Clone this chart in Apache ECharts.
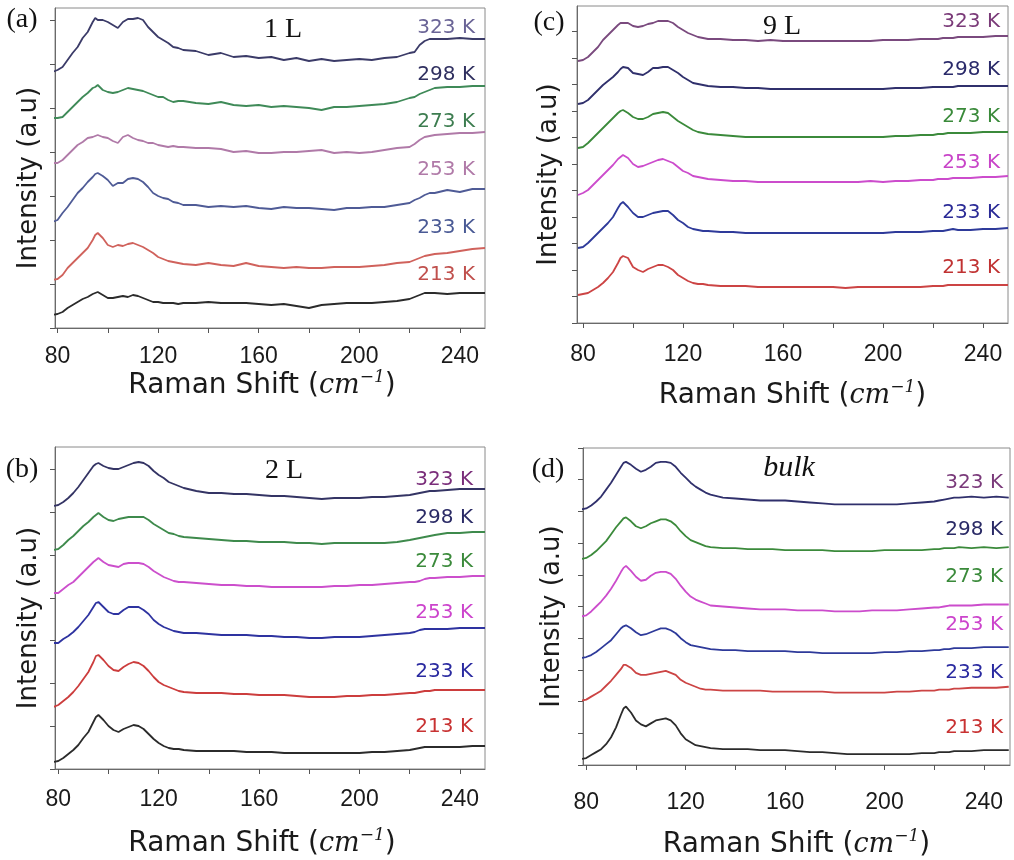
<!DOCTYPE html>
<html>
<head>
<meta charset="utf-8">
<script src="https://cdn.jsdelivr.net/npm/echarts@6/dist/echarts.min.js"></script>
<style>html,body{margin:0;padding:0;background:#fff}#c{width:1014px;height:860px}</style>
</head>
<body>
<div id="c"></div>
<script>
// Raman shift sampling (cm^-1)
const ramanShift = [78,80,82,84,86,88,90,92,94,95,96,98,100,102,104,106,108,110,112,114,116,118,120,122,124,126,128,130,135,140,145,150,155,160,165,170,175,180,185,190,195,200,205,210,215,220,222,224,226,228,230,235,240,245,250];
const xTickValues = [80,100,120,140,160,180,200,220,240];
const xLabelValues = [80,120,160,200,240];
const tempLabels = ['323 K','298 K','273 K','253 K','233 K','213 K'];

// (a) 1 L  — offset intensities (a.u.), top to bottom
const oneL_323 = [256,258,261,268,275,281,290,296,306,310,308,308,306,303,300,306,309,309,310,308,301,296,291,288,285,281,280,278,277,273,275,271,272,270,271,268,270,267,269,267,268,269,268,270,271,275,276,283,287,289,289,289,290,289,289];
const oneL_298 = [210,210,211,216,221,226,231,235,240,241,243,238,236,235,236,238,240,239,238,237,235,233,231,231,228,226,227,227,225,224,226,223,222,223,221,222,221,220,218,221,221,222,223,224,226,230,231,234,236,238,240,241,241,242,242];
const oneL_273 = [165,165,168,173,178,183,186,190,191,192,193,191,190,187,185,191,193,190,188,187,185,185,183,182,181,182,181,181,180,180,179,176,177,175,175,176,176,177,178,175,176,175,176,178,180,181,184,188,191,192,193,194,195,195,196];
const oneL_253 = [106,108,115,121,128,135,140,146,151,154,155,152,148,142,145,145,149,150,149,146,141,135,132,130,129,126,125,123,123,121,122,121,122,120,119,121,120,120,119,118,120,120,121,121,123,125,128,130,133,135,135,138,136,139,139];
const oneL_233 = [48,49,53,60,65,70,75,80,88,93,95,90,83,81,83,82,84,85,83,81,78,75,71,69,67,66,65,64,63,65,63,62,65,62,61,60,61,60,60,61,61,61,62,63,65,66,68,70,72,73,74,75,77,79,80];
const oneL_213 = [13,14,16,20,23,26,29,31,34,35,36,33,30,30,31,32,31,33,32,30,28,26,26,25,25,25,24,25,25,26,25,25,25,24,23,24,22,20,23,24,25,25,25,26,27,29,31,33,35,35,35,34,35,35,35];

// (b) 2 L
const twoL_323 = [263,264,267,271,276,282,289,296,303,305,306,303,301,300,300,302,304,306,307,306,303,298,294,291,287,285,283,281,278,276,276,275,275,274,273,273,272,271,270,271,271,271,272,272,273,274,275,276,277,278,278,279,280,280,280];
const twoL_298 = [219,220,224,229,233,238,243,247,252,254,256,252,249,248,250,251,252,252,252,252,249,245,242,239,236,235,233,232,231,230,229,228,228,227,227,227,226,226,225,226,226,226,226,226,227,229,230,231,232,233,234,236,236,237,237];
const twoL_273 = [176,176,180,184,187,192,197,202,207,209,211,207,204,203,202,205,206,206,206,205,202,198,195,192,190,188,187,187,186,185,184,184,183,183,182,182,182,182,182,183,183,184,184,185,186,187,187,188,190,191,191,192,192,193,193];
const twoL_253 = [126,126,130,133,137,142,148,154,162,166,167,162,157,155,155,159,162,162,162,159,155,149,145,142,140,138,137,136,136,135,134,134,134,133,133,132,132,131,131,132,132,132,133,134,135,136,137,139,140,140,140,140,141,141,141];
const twoL_233 = [62,64,68,72,77,83,90,97,107,113,114,109,103,99,98,102,105,107,106,103,98,92,87,84,82,80,78,77,76,76,76,75,75,74,74,74,73,72,72,72,73,73,74,74,75,76,76,77,78,78,79,79,79,79,79];
const twoL_213 = [7,8,11,15,19,24,31,37,47,52,54,49,43,39,37,40,42,44,43,40,35,30,26,23,21,20,20,19,18,18,18,18,17,17,17,16,16,16,16,16,16,16,17,17,18,19,20,21,22,22,22,22,22,23,23];

// (c) 9 L
const nineL_323 = [262,263,266,271,276,283,288,293,298,300,300,300,297,296,297,299,300,302,302,302,300,296,293,290,288,286,285,284,284,283,283,282,283,282,282,282,282,282,282,282,282,283,283,283,284,284,284,285,285,285,286,286,286,287,287];
const nineL_298 = [219,220,223,228,233,238,242,246,251,254,256,255,250,249,248,251,255,255,256,256,253,250,246,243,240,239,238,237,236,236,235,235,234,234,234,234,234,234,234,234,234,234,235,235,235,236,236,236,236,236,237,237,237,237,237];
const nineL_273 = [175,176,180,185,190,195,200,205,210,212,213,210,206,204,204,206,209,210,211,210,206,202,199,196,193,191,190,189,188,187,186,186,186,186,186,186,186,186,186,186,186,186,187,187,188,188,189,189,190,190,190,190,191,191,191];
const nineL_253 = [128,130,133,138,143,148,153,158,164,166,168,165,159,156,157,159,161,163,164,162,160,156,152,150,147,146,145,144,143,142,142,141,141,141,141,141,141,141,141,141,142,141,142,142,143,143,144,144,144,145,145,145,146,146,147];
const nineL_233 = [75,76,80,85,90,95,100,106,115,119,121,116,110,106,106,108,110,111,112,112,108,103,100,96,94,93,92,92,91,91,90,90,90,90,90,90,90,90,90,90,90,90,91,91,91,92,92,92,93,94,93,93,94,94,95];
const nineL_213 = [28,29,30,33,36,40,45,51,60,65,67,65,56,53,51,54,56,58,58,56,53,48,45,42,40,39,39,38,37,37,37,36,36,36,36,36,36,36,35,36,36,36,36,36,36,37,37,37,38,38,38,38,38,38,38];

// (d) bulk
const bulk_323 = [258,259,262,266,271,278,285,293,301,305,306,303,299,296,298,301,305,306,306,305,301,295,290,285,281,278,275,273,270,269,268,267,267,267,266,265,264,263,263,263,263,263,263,264,265,266,267,268,269,270,270,271,270,271,270];
const bulk_298 = [208,209,212,216,221,226,233,240,246,249,250,246,241,239,241,244,246,248,248,246,242,236,231,227,225,223,221,220,219,219,218,218,218,217,217,217,217,216,216,216,216,217,217,217,217,218,218,219,219,219,220,219,220,219,220];
const bulk_273 = [150,151,155,160,165,171,178,186,195,199,201,196,190,186,187,191,194,195,195,193,188,181,175,170,167,165,163,161,160,159,158,157,157,157,156,156,156,155,155,155,156,156,156,157,158,159,159,160,161,161,161,161,162,162,162];
const bulk_253 = [108,109,111,114,118,122,126,132,138,140,141,138,134,131,132,134,136,138,138,136,133,128,124,121,120,119,118,117,116,116,115,115,115,115,114,114,113,113,113,113,113,114,114,115,115,116,116,117,117,118,118,118,119,119,119];
const bulk_233 = [65,66,69,72,75,80,85,91,97,101,101,98,93,91,91,92,93,94,95,93,91,86,83,81,79,77,76,76,75,75,75,75,74,74,74,74,74,73,73,73,73,73,74,74,75,75,76,76,76,77,77,78,78,78,79];
const bulk_213 = [6,7,10,13,16,21,28,38,51,57,59,53,45,41,39,42,45,46,47,45,40,32,26,23,20,19,18,17,16,16,16,15,15,15,14,13,13,12,11,11,11,11,11,11,12,12,13,13,13,14,14,14,15,15,15];

// ---------- layout & style ----------
const panels = [
  { // (a)
    grid:{left:55, top:8, width:430, height:320},
    xMin:79, xMax:250, yTickStep:44, labelMargin:17, nameGap:40, nameShift:16, yNameGap:13,
    curves:[oneL_323,oneL_298,oneL_273,oneL_253,oneL_233,oneL_213],
    colors:['#3b3b68','#3f8a58','#b07aa8','#4f5b96','#d0625c','#2b2b2b'],
    textColors:['#6a6496','#2f2f5f','#3d7d50','#b07aa8','#4a5a95','#c0504d'],
    labelX:475, labelY:[28,75,122,170,228,275],
    letter:'(a)', letterPos:[22,20], tag:'1 L', tagPos:[283,30], tagItalic:false
  },
  { // (b)
    grid:{left:55, top:447, width:430, height:322},
    xMin:78.7, xMax:250, yTickStep:42.8, labelMargin:19, nameGap:58, nameShift:16, yNameGap:13,
    curves:[twoL_323,twoL_298,twoL_273,twoL_253,twoL_233,twoL_213],
    colors:['#343464','#3e8a4c','#cc4fcc','#2e33a0','#cc3d3d','#2b2b2b'],
    textColors:['#7a2d7a','#2b2b66','#3b8a3b','#cc44cc','#2a2aa0','#c83232'],
    labelX:473, labelY:[480,518,562,613,672,727],
    letter:'(b)', letterPos:[22,470], tag:'2 L', tagPos:[284,471], tagItalic:false
  },
  { // (c)
    grid:{left:577, top:6, width:431, height:317},
    xMin:77.6, xMax:250, yTickStep:26.5, labelMargin:20, nameGap:56, nameShift:0, yNameGap:15,
    curves:[nineL_323,nineL_298,nineL_273,nineL_253,nineL_233,nineL_213],
    colors:['#7a4a7e','#30306c','#3b8a3b','#cc4ccc','#2e3a9a','#cc4444'],
    textColors:['#7a3a78','#2a2a6a','#3a8a3a','#c844c8','#2a2a96','#c03232'],
    labelX:1000, labelY:[22,70,117,163,213,268],
    letter:'(c)', letterPos:[549,23], tag:'9 L', tagPos:[782,27], tagItalic:false
  },
  { // (d)
    grid:{left:583, top:448, width:427, height:320},
    xMin:78.7, xMax:250.5, yTickStep:32, labelMargin:26, nameGap:63, nameShift:0, yNameGap:18,
    curves:[bulk_323,bulk_298,bulk_273,bulk_253,bulk_233,bulk_213],
    colors:['#30306c','#3b8a3b','#cc4ccc','#2e3a9a','#cc4444','#2b2b2b'],
    textColors:['#7a3a7a','#2a2a66','#3a8a3a','#cc44cc','#2a2aa0','#c83232'],
    labelX:1003, labelY:[483,530,577,625,673,728],
    letter:'(d)', letterPos:[548,470], tag:'bulk', tagPos:[789,468], tagItalic:true
  }
];

const grids = [], xAxes = [], yAxes = [], series = [], graphics = [];
panels.forEach((p, i) => {
  grids.push(Object.assign({show:true, borderColor:'#8a8a8a', borderWidth:1, backgroundColor:'transparent'}, p.grid));
  xAxes.push({
    type:'value', gridIndex:i, min:p.xMin, max:p.xMax,
    axisLine:{show:true, onZero:false, lineStyle:{color:'#6a6a6a', width:1}},
    axisTick:{show:true, customValues:xTickValues, length:5, lineStyle:{color:'#555'}},
    axisLabel:{customValues:xLabelValues, fontSize:23, fontFamily:'Liberation Sans', color:'#1a1a1a', margin:p.labelMargin},
    splitLine:{show:false},
    name:'{t|Raman Shift (}{i|cm}{s|−1}{t|)}', nameLocation:'middle', nameGap:p.nameGap,
    nameTextStyle:{padding:[0, p.nameShift, 0, 0], rich:{
      t:{fontFamily:'DejaVu Sans', fontSize:28, lineHeight:34, color:'#1a1a1a'},
      i:{fontFamily:'DejaVu Serif', fontStyle:'italic', fontSize:27, lineHeight:34, color:'#1a1a1a'},
      s:{fontFamily:'DejaVu Serif', fontStyle:'italic', fontSize:17, lineHeight:18, verticalAlign:'top', color:'#1a1a1a'}
    }}
  });
  const h = p.grid.height;
  const yt = [];
  for (let k = 0; k * p.yTickStep <= h + 0.5; k++) yt.push(+(k * p.yTickStep).toFixed(2));
  yAxes.push({
    type:'value', gridIndex:i, min:0, max:h,
    axisLine:{show:true, onZero:false, lineStyle:{color:'#6a6a6a', width:1}},
    axisTick:{show:true, customValues:yt, length:5, lineStyle:{color:'#555'}},
    axisLabel:{show:false},
    splitLine:{show:false},
    name:'Intensity (a.u)', nameLocation:'middle', nameGap:p.yNameGap,
    nameTextStyle:{fontFamily:'DejaVu Sans', fontSize:26, color:'#1a1a1a', padding:[0,20,0,0]}
  });
  p.curves.forEach((c, j) => {
    series.push({
      type:'line', name:tempLabels[j], xAxisIndex:i, yAxisIndex:i,
      data: ramanShift.map((x, k) => [x, c[k]]),
      showSymbol:false, smooth:false, clip:true, silent:true,
      lineStyle:{color:p.colors[j], width:1.8}
    });
    graphics.push({type:'text', silent:true, style:{
      text:tempLabels[j], x:p.labelX, y:p.labelY[j],
      align:'right', verticalAlign:'middle',
      font:'20px "DejaVu Sans"', fill:p.textColors[j]
    }});
  });
  graphics.push({type:'text', silent:true, style:{
    text:p.letter, x:p.letterPos[0], y:p.letterPos[1], align:'center', verticalAlign:'middle',
    font:'28px "Liberation Serif"', fill:'#111'
  }});
  graphics.push({type:'text', silent:true, style:{
    text:p.tag, x:p.tagPos[0], y:p.tagPos[1], align:'center', verticalAlign:'middle',
    font:(p.tagItalic ? 'italic 30px' : '28px') + ' "Liberation Serif"', fill:'#111'
  }});
});

const chart = echarts.init(document.getElementById('c'), null, {renderer:'canvas'});
chart.setOption({
  animation:false,
  backgroundColor:'#ffffff',
  grid:grids, xAxis:xAxes, yAxis:yAxes, series:series, graphic:graphics
});
</script>
</body>
</html>
